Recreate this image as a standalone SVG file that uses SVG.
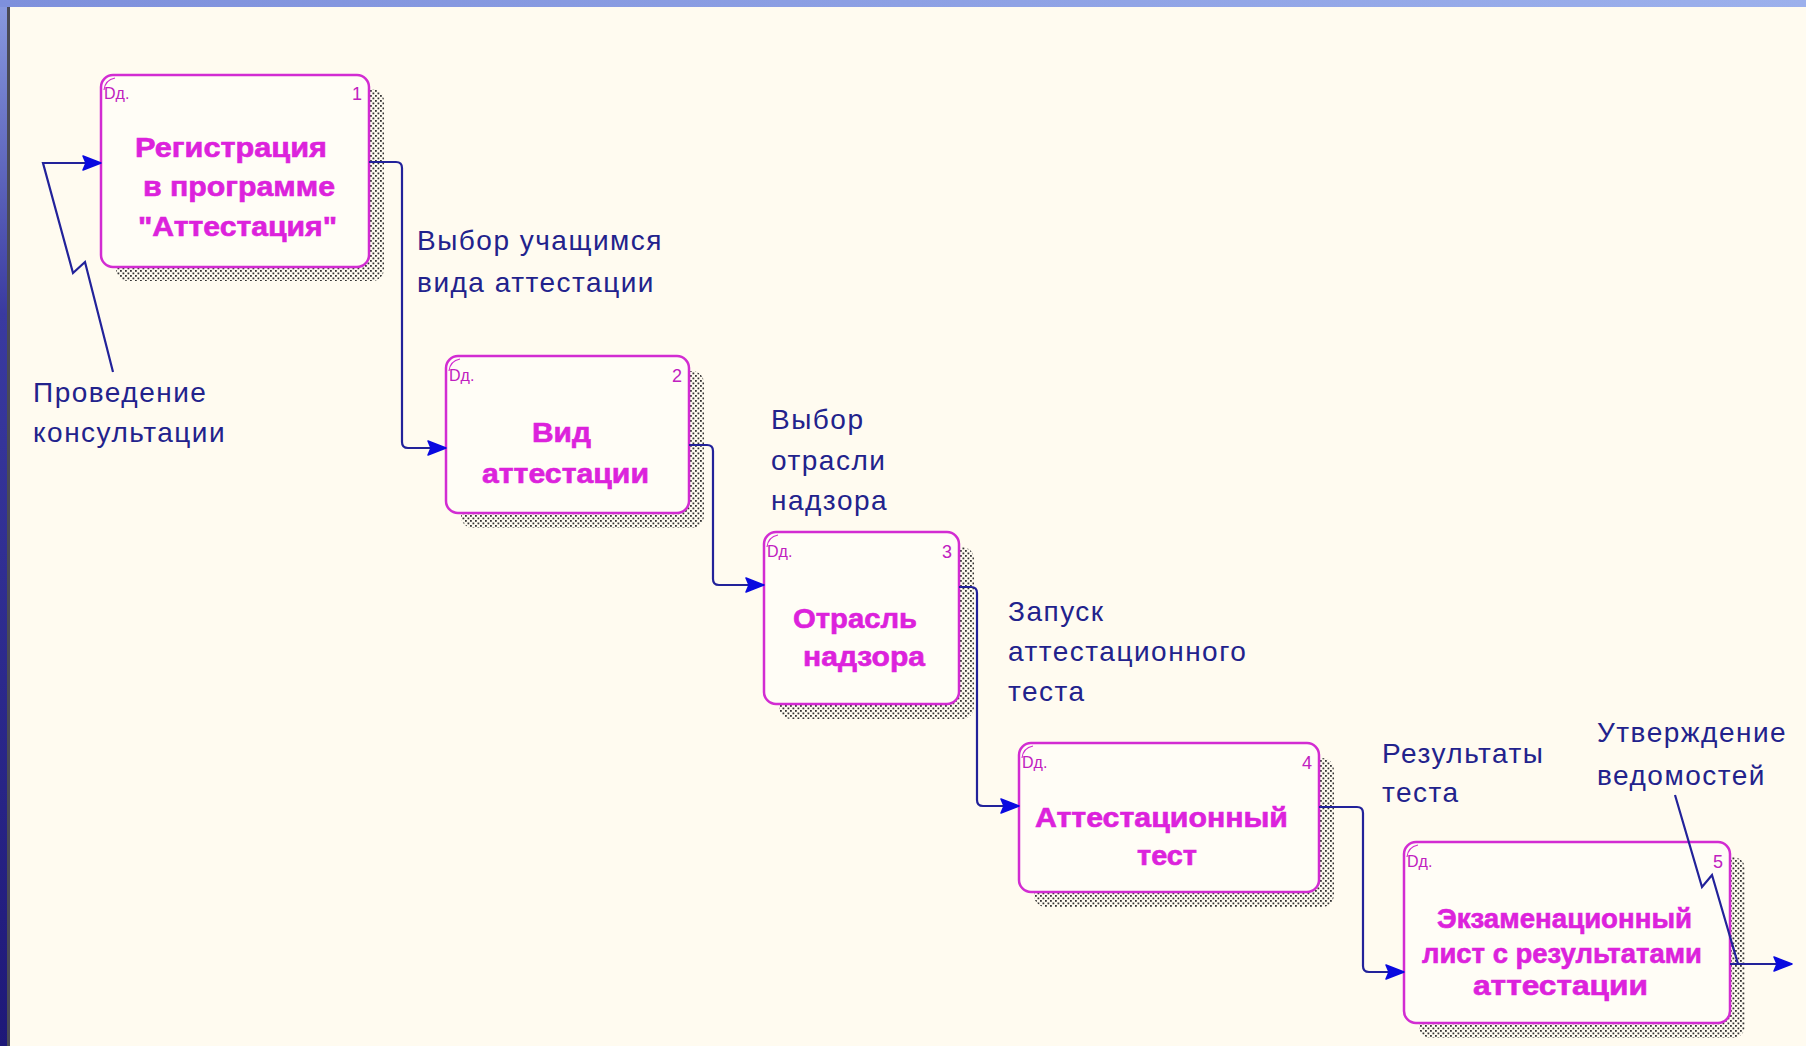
<svg xmlns="http://www.w3.org/2000/svg" width="1806" height="1046" viewBox="0 0 1806 1046">
<defs>
<linearGradient id="lstrip" x1="0" y1="0" x2="0" y2="1">
<stop offset="0" stop-color="#8A9BE0"/>
<stop offset="0.3" stop-color="#3A3AA0"/>
<stop offset="1" stop-color="#1E1878"/>
</linearGradient>
<linearGradient id="tstrip" x1="0" y1="0" x2="1" y2="0">
<stop offset="0" stop-color="#7E90DC"/>
<stop offset="1" stop-color="#9CB0EC"/>
</linearGradient>
<pattern id="dots" width="5" height="5" patternUnits="userSpaceOnUse">
<rect x="0" y="0" width="1.8" height="1.8" fill="#333"/>
<rect x="2.5" y="2.5" width="1.8" height="1.8" fill="#333"/>
</pattern>
<marker id="ah" markerUnits="userSpaceOnUse" markerWidth="24" markerHeight="20" refX="20" refY="10" orient="auto" overflow="visible">
<path d="M2,3 L20,10 L2,17 L5,10 Z" fill="#0A0AE0" stroke="#0A0AE0" stroke-width="1.5" stroke-linejoin="round"/>
</marker>
<style>
.bg{fill:#FFFBF0}
.shadow{fill:url(#dots)}
.box{fill:#FFFDF6;stroke:#D22CD2;stroke-width:2.5}
.corner{fill:none;stroke:#D22CD2;stroke-width:1.2}
.hdr{font-family:"Liberation Sans",Arial,sans-serif;font-size:16px;fill:#C020C0}
.num{font-family:"Liberation Sans",Arial,sans-serif;font-size:18px;fill:#C020C0;text-anchor:end}
.title{font-family:"Liberation Sans",Arial,sans-serif;font-size:28px;font-weight:bold;fill:#DC22DC;stroke:#DC22DC;stroke-width:0.6}
.lbl{font-family:"Liberation Sans",Arial,sans-serif;font-size:28px;letter-spacing:1.5px;fill:#22228C}
.conn{fill:none;stroke:#22229A;stroke-width:2.2}
</style>
</defs>
<rect class="bg" x="0" y="0" width="1806" height="1046"/>
<rect x="0" y="0" width="7" height="1046" fill="url(#lstrip)"/>
<rect x="7" y="0" width="3" height="1046" fill="#4A4A55"/>
<rect x="0" y="0" width="1806" height="7" fill="url(#tstrip)"/>

<g id="node1">
<rect class="shadow" x="116" y="89" width="268" height="192" rx="12"/>
<rect class="box" x="101" y="75" width="268" height="192" rx="12"/>
<path class="corner" d="M104,90 Q105,80 115,78"/>
<text class="hdr" x="104" y="99">Dд.</text>
<text class="num" x="362" y="100">1</text>
<text class="title" x="135" y="157" textLength="192" lengthAdjust="spacingAndGlyphs">Регистрация</text>
<text class="title" x="143" y="196" textLength="192" lengthAdjust="spacingAndGlyphs">в программе</text>
<text class="title" x="138" y="236" textLength="199" lengthAdjust="spacingAndGlyphs">"Аттестация"</text>
</g>

<g id="node2">
<rect class="shadow" x="461" y="371" width="243" height="157" rx="12"/>
<rect class="box" x="446" y="356" width="243" height="157" rx="12"/>
<path class="corner" d="M449,371 Q450,361 460,359"/>
<text class="hdr" x="449" y="381">Dд.</text>
<text class="num" x="682" y="382">2</text>
<text class="title" x="532" y="442" textLength="59" lengthAdjust="spacingAndGlyphs">Вид</text>
<text class="title" x="482" y="483" textLength="167" lengthAdjust="spacingAndGlyphs">аттестации</text>
</g>

<g id="node3">
<rect class="shadow" x="779" y="547" width="195" height="172" rx="12"/>
<rect class="box" x="764" y="532" width="195" height="172" rx="12"/>
<path class="corner" d="M767,547 Q768,537 778,535"/>
<text class="hdr" x="767" y="557">Dд.</text>
<text class="num" x="952" y="558">3</text>
<text class="title" x="793" y="628" textLength="124" lengthAdjust="spacingAndGlyphs">Отрасль</text>
<text class="title" x="803" y="666" textLength="122" lengthAdjust="spacingAndGlyphs">надзора</text>
</g>

<g id="node4">
<rect class="shadow" x="1034" y="758" width="300" height="149" rx="12"/>
<rect class="box" x="1019" y="743" width="300" height="149" rx="12"/>
<path class="corner" d="M1022,758 Q1023,748 1033,746"/>
<text class="hdr" x="1022" y="768">Dд.</text>
<text class="num" x="1312" y="769">4</text>
<text class="title" x="1035" y="827" textLength="253" lengthAdjust="spacingAndGlyphs">Аттестационный</text>
<text class="title" x="1137" y="865" textLength="60" lengthAdjust="spacingAndGlyphs">тест</text>
</g>

<g id="node5">
<rect class="shadow" x="1419" y="857" width="326" height="181" rx="12"/>
<rect class="box" x="1404" y="842" width="326" height="181" rx="12"/>
<path class="corner" d="M1407,857 Q1408,847 1418,845"/>
<text class="hdr" x="1407" y="867">Dд.</text>
<text class="num" x="1723" y="868">5</text>
<text class="title" x="1437" y="928" textLength="255" lengthAdjust="spacingAndGlyphs">Экзаменационный</text>
<text class="title" x="1422" y="963" textLength="280" lengthAdjust="spacingAndGlyphs">лист с результатами</text>
<text class="title" x="1473" y="995" textLength="175" lengthAdjust="spacingAndGlyphs">аттестации</text>
</g>

<g id="connectors">
<path class="conn" marker-end="url(#ah)" d="M113,372 L85,262 L73,273 L43,163 L101,163"/>
<path class="conn" marker-end="url(#ah)" d="M369,162 L396,162 Q402,162 402,168 L402,442 Q402,448 408,448 L446,448"/>
<path class="conn" marker-end="url(#ah)" d="M689,445 L707,445 Q713,445 713,451 L713,579 Q713,585 719,585 L764,585"/>
<path class="conn" marker-end="url(#ah)" d="M959,587 L971,587 Q977,587 977,593 L977,800 Q977,806 983,806 L1019,806"/>
<path class="conn" marker-end="url(#ah)" d="M1319,807 L1357,807 Q1363,807 1363,813 L1363,966 Q1363,972 1369,972 L1404,972"/>
<path class="conn" marker-end="url(#ah)" d="M1730,964 L1792,964"/>
<path class="conn" d="M1675,795 L1702,887 L1712,875 L1738,964"/>
</g>

<g id="labels">
<text class="lbl" x="33" y="402">Проведение</text>
<text class="lbl" x="33" y="442">консультации</text>
<text class="lbl" x="417" y="250">Выбор учащимся</text>
<text class="lbl" x="417" y="292">вида аттестации</text>
<text class="lbl" x="771" y="429">Выбор</text>
<text class="lbl" x="771" y="470">отрасли</text>
<text class="lbl" x="771" y="510">надзора</text>
<text class="lbl" x="1008" y="621">Запуск</text>
<text class="lbl" x="1008" y="661">аттестационного</text>
<text class="lbl" x="1008" y="701">теста</text>
<text class="lbl" x="1382" y="763">Результаты</text>
<text class="lbl" x="1382" y="802">теста</text>
<text class="lbl" x="1597" y="742">Утверждение</text>
<text class="lbl" x="1597" y="785">ведомостей</text>
</g>
</svg>
